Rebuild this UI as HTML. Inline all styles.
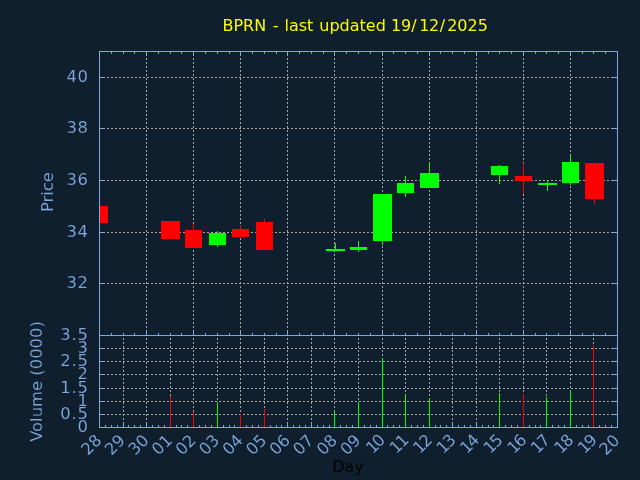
<!DOCTYPE html>
<html><head><meta charset="utf-8"><title>BPRN</title>
<style>html,body{margin:0;padding:0;background:#101f2e;overflow:hidden}svg{display:block}</style>
</head><body>
<svg width="640" height="480" viewBox="0 0 640 480">
<rect width="640" height="480" fill="#101f2e"/>
<g stroke="#a6a5a0" stroke-width="1" stroke-dasharray="2 2" shape-rendering="crispEdges" fill="none">
<path d="M99 77.5H618"/>
<path d="M99 128.5H618"/>
<path d="M99 180.5H618"/>
<path d="M99 232.5H618"/>
<path d="M99 283.5H618"/>
<path d="M99 348.5H618"/>
<path d="M99 361.5H618"/>
<path d="M99 374.5H618"/>
<path d="M99 388.5H618"/>
<path d="M99 401.5H618"/>
<path d="M99 414.5H618"/>
<path d="M146.5 51V335" stroke-dashoffset="1"/>
<path d="M193.5 51V335" stroke-dashoffset="1"/>
<path d="M240.5 51V335" stroke-dashoffset="1"/>
<path d="M287.5 51V335" stroke-dashoffset="1"/>
<path d="M334.5 51V335" stroke-dashoffset="1"/>
<path d="M382.5 51V335" stroke-dashoffset="1"/>
<path d="M429.5 51V335" stroke-dashoffset="1"/>
<path d="M476.5 51V335" stroke-dashoffset="1"/>
<path d="M523.5 51V335" stroke-dashoffset="1"/>
<path d="M570.5 51V335" stroke-dashoffset="1"/>
<path d="M123.5 336V427" stroke-dashoffset="2"/>
<path d="M146.5 336V427" stroke-dashoffset="2"/>
<path d="M170.5 336V427" stroke-dashoffset="2"/>
<path d="M193.5 336V427" stroke-dashoffset="2"/>
<path d="M217.5 336V427" stroke-dashoffset="2"/>
<path d="M240.5 336V427" stroke-dashoffset="2"/>
<path d="M264.5 336V427" stroke-dashoffset="2"/>
<path d="M287.5 336V427" stroke-dashoffset="2"/>
<path d="M311.5 336V427" stroke-dashoffset="2"/>
<path d="M334.5 336V427" stroke-dashoffset="2"/>
<path d="M358.5 336V427" stroke-dashoffset="2"/>
<path d="M382.5 336V427" stroke-dashoffset="2"/>
<path d="M405.5 336V427" stroke-dashoffset="2"/>
<path d="M429.5 336V427" stroke-dashoffset="2"/>
<path d="M452.5 336V427" stroke-dashoffset="2"/>
<path d="M476.5 336V427" stroke-dashoffset="2"/>
<path d="M499.5 336V427" stroke-dashoffset="2"/>
<path d="M523.5 336V427" stroke-dashoffset="2"/>
<path d="M546.5 336V427" stroke-dashoffset="2"/>
<path d="M570.5 336V427" stroke-dashoffset="2"/>
<path d="M593.5 336V427" stroke-dashoffset="2"/>
</g>
<g shape-rendering="crispEdges">
<rect x="100" y="206" width="8" height="17" fill="#ff0000"/>
<rect x="161" y="221" width="19" height="18" fill="#ff0000"/>
<rect x="193" y="224" width="1" height="6" fill="#ff0000"/>
<rect x="185" y="230" width="17" height="18" fill="#ff0000"/>
<rect x="217" y="231" width="1" height="16" fill="#00ff00"/>
<rect x="209" y="233" width="17" height="12" fill="#00ff00"/>
<rect x="240" y="225" width="1" height="4" fill="#ff0000"/>
<rect x="232" y="229" width="17" height="8" fill="#ff0000"/>
<rect x="264" y="219" width="1" height="3" fill="#ff0000"/>
<rect x="256" y="222" width="17" height="28" fill="#ff0000"/>
<rect x="335" y="243" width="1" height="6" fill="#00ff00"/>
<rect x="326" y="249" width="19" height="2" fill="#00ff00"/>
<rect x="358" y="241" width="1" height="11" fill="#00ff00"/>
<rect x="350" y="247" width="17" height="3" fill="#00ff00"/>
<rect x="382" y="241" width="1" height="4" fill="#00ff00"/>
<rect x="373" y="194" width="19" height="47" fill="#00ff00"/>
<rect x="405" y="176" width="1" height="21" fill="#00ff00"/>
<rect x="397" y="183" width="17" height="10" fill="#00ff00"/>
<rect x="429" y="163" width="1" height="10" fill="#00ff00"/>
<rect x="420" y="173" width="19" height="15" fill="#00ff00"/>
<rect x="499" y="165" width="1" height="19" fill="#00ff00"/>
<rect x="491" y="166" width="17" height="9" fill="#00ff00"/>
<rect x="523" y="163" width="1" height="31" fill="#ff0000"/>
<rect x="515" y="176" width="17" height="5" fill="#ff0000"/>
<rect x="547" y="180" width="1" height="11" fill="#00ff00"/>
<rect x="538" y="183" width="19" height="2" fill="#00ff00"/>
<rect x="570" y="156" width="1" height="29" fill="#00ff00"/>
<rect x="562" y="162" width="17" height="21" fill="#00ff00"/>
<rect x="594" y="199" width="1" height="5" fill="#ff0000"/>
<rect x="585" y="163" width="19" height="36" fill="#ff0000"/>
</g>
<g fill="#81abe0" shape-rendering="crispEdges">
<rect x="100" y="77" width="4" height="1"/>
<rect x="613" y="77" width="4" height="1"/>
<rect x="100" y="128" width="4" height="1"/>
<rect x="613" y="128" width="4" height="1"/>
<rect x="100" y="180" width="4" height="1"/>
<rect x="613" y="180" width="4" height="1"/>
<rect x="100" y="232" width="4" height="1"/>
<rect x="613" y="232" width="4" height="1"/>
<rect x="100" y="283" width="4" height="1"/>
<rect x="613" y="283" width="4" height="1"/>
<rect x="100" y="348" width="4" height="1"/>
<rect x="613" y="348" width="4" height="1"/>
<rect x="100" y="361" width="4" height="1"/>
<rect x="613" y="361" width="4" height="1"/>
<rect x="100" y="374" width="4" height="1"/>
<rect x="613" y="374" width="4" height="1"/>
<rect x="100" y="388" width="4" height="1"/>
<rect x="613" y="388" width="4" height="1"/>
<rect x="100" y="401" width="4" height="1"/>
<rect x="613" y="401" width="4" height="1"/>
<rect x="100" y="414" width="4" height="1"/>
<rect x="613" y="414" width="4" height="1"/>
<rect x="111" y="52" width="1" height="2"/>
<rect x="111" y="333" width="1" height="2"/>
<rect x="123" y="52" width="1" height="2"/>
<rect x="123" y="333" width="1" height="2"/>
<rect x="134" y="52" width="1" height="2"/>
<rect x="134" y="333" width="1" height="2"/>
<rect x="146" y="52" width="1" height="4"/>
<rect x="146" y="331" width="1" height="4"/>
<rect x="158" y="52" width="1" height="2"/>
<rect x="158" y="333" width="1" height="2"/>
<rect x="170" y="52" width="1" height="2"/>
<rect x="170" y="333" width="1" height="2"/>
<rect x="181" y="52" width="1" height="2"/>
<rect x="181" y="333" width="1" height="2"/>
<rect x="193" y="52" width="1" height="4"/>
<rect x="193" y="331" width="1" height="4"/>
<rect x="205" y="52" width="1" height="2"/>
<rect x="205" y="333" width="1" height="2"/>
<rect x="217" y="52" width="1" height="2"/>
<rect x="217" y="333" width="1" height="2"/>
<rect x="229" y="52" width="1" height="2"/>
<rect x="229" y="333" width="1" height="2"/>
<rect x="240" y="52" width="1" height="4"/>
<rect x="240" y="331" width="1" height="4"/>
<rect x="252" y="52" width="1" height="2"/>
<rect x="252" y="333" width="1" height="2"/>
<rect x="264" y="52" width="1" height="2"/>
<rect x="264" y="333" width="1" height="2"/>
<rect x="276" y="52" width="1" height="2"/>
<rect x="276" y="333" width="1" height="2"/>
<rect x="287" y="52" width="1" height="4"/>
<rect x="287" y="331" width="1" height="4"/>
<rect x="299" y="52" width="1" height="2"/>
<rect x="299" y="333" width="1" height="2"/>
<rect x="311" y="52" width="1" height="2"/>
<rect x="311" y="333" width="1" height="2"/>
<rect x="323" y="52" width="1" height="2"/>
<rect x="323" y="333" width="1" height="2"/>
<rect x="334" y="52" width="1" height="4"/>
<rect x="334" y="331" width="1" height="4"/>
<rect x="346" y="52" width="1" height="2"/>
<rect x="346" y="333" width="1" height="2"/>
<rect x="358" y="52" width="1" height="2"/>
<rect x="358" y="333" width="1" height="2"/>
<rect x="370" y="52" width="1" height="2"/>
<rect x="370" y="333" width="1" height="2"/>
<rect x="382" y="52" width="1" height="4"/>
<rect x="382" y="331" width="1" height="4"/>
<rect x="393" y="52" width="1" height="2"/>
<rect x="393" y="333" width="1" height="2"/>
<rect x="405" y="52" width="1" height="2"/>
<rect x="405" y="333" width="1" height="2"/>
<rect x="417" y="52" width="1" height="2"/>
<rect x="417" y="333" width="1" height="2"/>
<rect x="429" y="52" width="1" height="4"/>
<rect x="429" y="331" width="1" height="4"/>
<rect x="440" y="52" width="1" height="2"/>
<rect x="440" y="333" width="1" height="2"/>
<rect x="452" y="52" width="1" height="2"/>
<rect x="452" y="333" width="1" height="2"/>
<rect x="464" y="52" width="1" height="2"/>
<rect x="464" y="333" width="1" height="2"/>
<rect x="476" y="52" width="1" height="4"/>
<rect x="476" y="331" width="1" height="4"/>
<rect x="488" y="52" width="1" height="2"/>
<rect x="488" y="333" width="1" height="2"/>
<rect x="499" y="52" width="1" height="2"/>
<rect x="499" y="333" width="1" height="2"/>
<rect x="511" y="52" width="1" height="2"/>
<rect x="511" y="333" width="1" height="2"/>
<rect x="523" y="52" width="1" height="4"/>
<rect x="523" y="331" width="1" height="4"/>
<rect x="535" y="52" width="1" height="2"/>
<rect x="535" y="333" width="1" height="2"/>
<rect x="546" y="52" width="1" height="2"/>
<rect x="546" y="333" width="1" height="2"/>
<rect x="558" y="52" width="1" height="2"/>
<rect x="558" y="333" width="1" height="2"/>
<rect x="570" y="52" width="1" height="4"/>
<rect x="570" y="331" width="1" height="4"/>
<rect x="582" y="52" width="1" height="2"/>
<rect x="582" y="333" width="1" height="2"/>
<rect x="593" y="52" width="1" height="2"/>
<rect x="593" y="333" width="1" height="2"/>
<rect x="605" y="52" width="1" height="2"/>
<rect x="605" y="333" width="1" height="2"/>
<rect x="105" y="425" width="1" height="2"/>
<rect x="111" y="425" width="1" height="2"/>
<rect x="117" y="425" width="1" height="2"/>
<rect x="123" y="423" width="1" height="4"/>
<rect x="128" y="425" width="1" height="2"/>
<rect x="134" y="425" width="1" height="2"/>
<rect x="140" y="425" width="1" height="2"/>
<rect x="146" y="423" width="1" height="4"/>
<rect x="152" y="425" width="1" height="2"/>
<rect x="158" y="425" width="1" height="2"/>
<rect x="164" y="425" width="1" height="2"/>
<rect x="170" y="423" width="1" height="4"/>
<rect x="176" y="425" width="1" height="2"/>
<rect x="181" y="425" width="1" height="2"/>
<rect x="187" y="425" width="1" height="2"/>
<rect x="193" y="423" width="1" height="4"/>
<rect x="199" y="425" width="1" height="2"/>
<rect x="205" y="425" width="1" height="2"/>
<rect x="211" y="425" width="1" height="2"/>
<rect x="217" y="423" width="1" height="4"/>
<rect x="223" y="425" width="1" height="2"/>
<rect x="229" y="425" width="1" height="2"/>
<rect x="234" y="425" width="1" height="2"/>
<rect x="240" y="423" width="1" height="4"/>
<rect x="246" y="425" width="1" height="2"/>
<rect x="252" y="425" width="1" height="2"/>
<rect x="258" y="425" width="1" height="2"/>
<rect x="264" y="423" width="1" height="4"/>
<rect x="270" y="425" width="1" height="2"/>
<rect x="276" y="425" width="1" height="2"/>
<rect x="281" y="425" width="1" height="2"/>
<rect x="287" y="423" width="1" height="4"/>
<rect x="293" y="425" width="1" height="2"/>
<rect x="299" y="425" width="1" height="2"/>
<rect x="305" y="425" width="1" height="2"/>
<rect x="311" y="423" width="1" height="4"/>
<rect x="317" y="425" width="1" height="2"/>
<rect x="323" y="425" width="1" height="2"/>
<rect x="329" y="425" width="1" height="2"/>
<rect x="334" y="423" width="1" height="4"/>
<rect x="340" y="425" width="1" height="2"/>
<rect x="346" y="425" width="1" height="2"/>
<rect x="352" y="425" width="1" height="2"/>
<rect x="358" y="423" width="1" height="4"/>
<rect x="364" y="425" width="1" height="2"/>
<rect x="370" y="425" width="1" height="2"/>
<rect x="376" y="425" width="1" height="2"/>
<rect x="382" y="423" width="1" height="4"/>
<rect x="387" y="425" width="1" height="2"/>
<rect x="393" y="425" width="1" height="2"/>
<rect x="399" y="425" width="1" height="2"/>
<rect x="405" y="423" width="1" height="4"/>
<rect x="411" y="425" width="1" height="2"/>
<rect x="417" y="425" width="1" height="2"/>
<rect x="423" y="425" width="1" height="2"/>
<rect x="429" y="423" width="1" height="4"/>
<rect x="435" y="425" width="1" height="2"/>
<rect x="440" y="425" width="1" height="2"/>
<rect x="446" y="425" width="1" height="2"/>
<rect x="452" y="423" width="1" height="4"/>
<rect x="458" y="425" width="1" height="2"/>
<rect x="464" y="425" width="1" height="2"/>
<rect x="470" y="425" width="1" height="2"/>
<rect x="476" y="423" width="1" height="4"/>
<rect x="482" y="425" width="1" height="2"/>
<rect x="488" y="425" width="1" height="2"/>
<rect x="493" y="425" width="1" height="2"/>
<rect x="499" y="423" width="1" height="4"/>
<rect x="505" y="425" width="1" height="2"/>
<rect x="511" y="425" width="1" height="2"/>
<rect x="517" y="425" width="1" height="2"/>
<rect x="523" y="423" width="1" height="4"/>
<rect x="529" y="425" width="1" height="2"/>
<rect x="535" y="425" width="1" height="2"/>
<rect x="540" y="425" width="1" height="2"/>
<rect x="546" y="423" width="1" height="4"/>
<rect x="552" y="425" width="1" height="2"/>
<rect x="558" y="425" width="1" height="2"/>
<rect x="564" y="425" width="1" height="2"/>
<rect x="570" y="423" width="1" height="4"/>
<rect x="576" y="425" width="1" height="2"/>
<rect x="582" y="425" width="1" height="2"/>
<rect x="588" y="425" width="1" height="2"/>
<rect x="593" y="423" width="1" height="4"/>
<rect x="599" y="425" width="1" height="2"/>
<rect x="605" y="425" width="1" height="2"/>
<rect x="611" y="425" width="1" height="2"/>
</g>
<g shape-rendering="crispEdges">
<rect x="170" y="396" width="1" height="31" fill="#ff0000"/>
<rect x="193" y="412" width="1" height="15" fill="#ff0000"/>
<rect x="217" y="402" width="1" height="25" fill="#00ff00"/>
<rect x="240" y="414" width="1" height="13" fill="#ff0000"/>
<rect x="264" y="409" width="1" height="18" fill="#ff0000"/>
<rect x="334" y="412" width="1" height="15" fill="#00ff00"/>
<rect x="358" y="402" width="1" height="25" fill="#00ff00"/>
<rect x="382" y="358" width="1" height="69" fill="#00ff00"/>
<rect x="405" y="395" width="1" height="32" fill="#00ff00"/>
<rect x="429" y="398" width="1" height="29" fill="#00ff00"/>
<rect x="499" y="393" width="1" height="34" fill="#00ff00"/>
<rect x="523" y="394" width="1" height="33" fill="#ff0000"/>
<rect x="546" y="397" width="1" height="30" fill="#00ff00"/>
<rect x="570" y="391" width="1" height="36" fill="#00ff00"/>
<rect x="593" y="345" width="1" height="82" fill="#ff0000"/>
</g>
<g fill="#81abe0" shape-rendering="crispEdges">
<rect x="99" y="51" width="1" height="377"/>
<rect x="617" y="51" width="1" height="377"/>
<rect x="99" y="51" width="519" height="1"/>
<rect x="99" y="335" width="519" height="1"/>
<rect x="99" y="427" width="519" height="1"/>
</g>
<g font-family="'DejaVu Sans', 'Liberation Sans', sans-serif" font-size="16.4" fill="#81abe0" opacity="0.99" stroke="#101f2e" stroke-width="0.12">
<text x="222.4" y="30.6" dx="0 0 0 0 0 1.5 0 0.84 0 0 0 0 0.86 0 0 0 0 0 0 0 0.07 -0.07 0.01 2.51 -0.37 0.61 1.91 0.03 0.01 -0.07" fill="#ffff00" font-size="16" stroke="none">BPRN - last updated 19/12/2025</text>
<text x="88" y="82.1" text-anchor="end" textLength="21.6" lengthAdjust="spacing">40</text>
<text x="88" y="133.1" text-anchor="end" textLength="21.6" lengthAdjust="spacing">38</text>
<text x="88" y="185.1" text-anchor="end" textLength="21.6" lengthAdjust="spacing">36</text>
<text x="88" y="237.1" text-anchor="end" textLength="21.6" lengthAdjust="spacing">34</text>
<text x="88" y="288.1" text-anchor="end" textLength="21.6" lengthAdjust="spacing">32</text>
<text x="88" y="340.1" text-anchor="end" textLength="27.7" lengthAdjust="spacing">3.5</text>
<text x="88" y="353.1" text-anchor="end">3</text>
<text x="88" y="366.1" text-anchor="end" textLength="27.7" lengthAdjust="spacing">2.5</text>
<text x="88" y="379.1" text-anchor="end">2</text>
<text x="88" y="393.1" text-anchor="end" textLength="27.7" lengthAdjust="spacing">1.5</text>
<text x="88" y="406.1" text-anchor="end">1</text>
<text x="88" y="419.1" text-anchor="end" textLength="27.7" lengthAdjust="spacing">0.5</text>
<text x="88" y="432.1" text-anchor="end">0</text>
<text transform="translate(52.5 192.1) rotate(-90)" text-anchor="middle">Price</text>
<text transform="translate(42.2 381.5) rotate(-90)" text-anchor="middle">Volume (0000)</text>
<text x="348" y="471.5" text-anchor="middle" fill="#000000" font-size="16">Day</text>
<text transform="translate(102.70 441.30) rotate(-45)" text-anchor="end">28</text>
<text transform="translate(126.25 441.30) rotate(-45)" text-anchor="end">29</text>
<text transform="translate(149.79 441.30) rotate(-45)" text-anchor="end">30</text>
<text transform="translate(173.34 441.30) rotate(-45)" text-anchor="end">01</text>
<text transform="translate(196.88 441.30) rotate(-45)" text-anchor="end">02</text>
<text transform="translate(220.43 441.30) rotate(-45)" text-anchor="end">03</text>
<text transform="translate(243.97 441.30) rotate(-45)" text-anchor="end">04</text>
<text transform="translate(267.52 441.30) rotate(-45)" text-anchor="end">05</text>
<text transform="translate(291.06 441.30) rotate(-45)" text-anchor="end">06</text>
<text transform="translate(314.61 441.30) rotate(-45)" text-anchor="end">07</text>
<text transform="translate(338.15 441.30) rotate(-45)" text-anchor="end">08</text>
<text transform="translate(361.70 441.30) rotate(-45)" text-anchor="end">09</text>
<text transform="translate(386.25 440.90) rotate(-45)" text-anchor="end" dx="0 -1.6">10</text>
<text transform="translate(409.79 440.90) rotate(-45)" text-anchor="end" dx="0 -1.6">11</text>
<text transform="translate(433.34 440.90) rotate(-45)" text-anchor="end" dx="0 -1.6">12</text>
<text transform="translate(456.88 440.90) rotate(-45)" text-anchor="end" dx="0 -1.6">13</text>
<text transform="translate(480.43 440.90) rotate(-45)" text-anchor="end" dx="0 -1.6">14</text>
<text transform="translate(503.97 440.90) rotate(-45)" text-anchor="end" dx="0 -1.6">15</text>
<text transform="translate(527.52 440.90) rotate(-45)" text-anchor="end" dx="0 -1.6">16</text>
<text transform="translate(551.06 440.90) rotate(-45)" text-anchor="end" dx="0 -1.6">17</text>
<text transform="translate(574.61 440.90) rotate(-45)" text-anchor="end" dx="0 -1.6">18</text>
<text transform="translate(598.15 440.90) rotate(-45)" text-anchor="end" dx="0 -1.6">19</text>
<text transform="translate(620.70 441.30) rotate(-45)" text-anchor="end">20</text>
</g>
</svg>
</body></html>
